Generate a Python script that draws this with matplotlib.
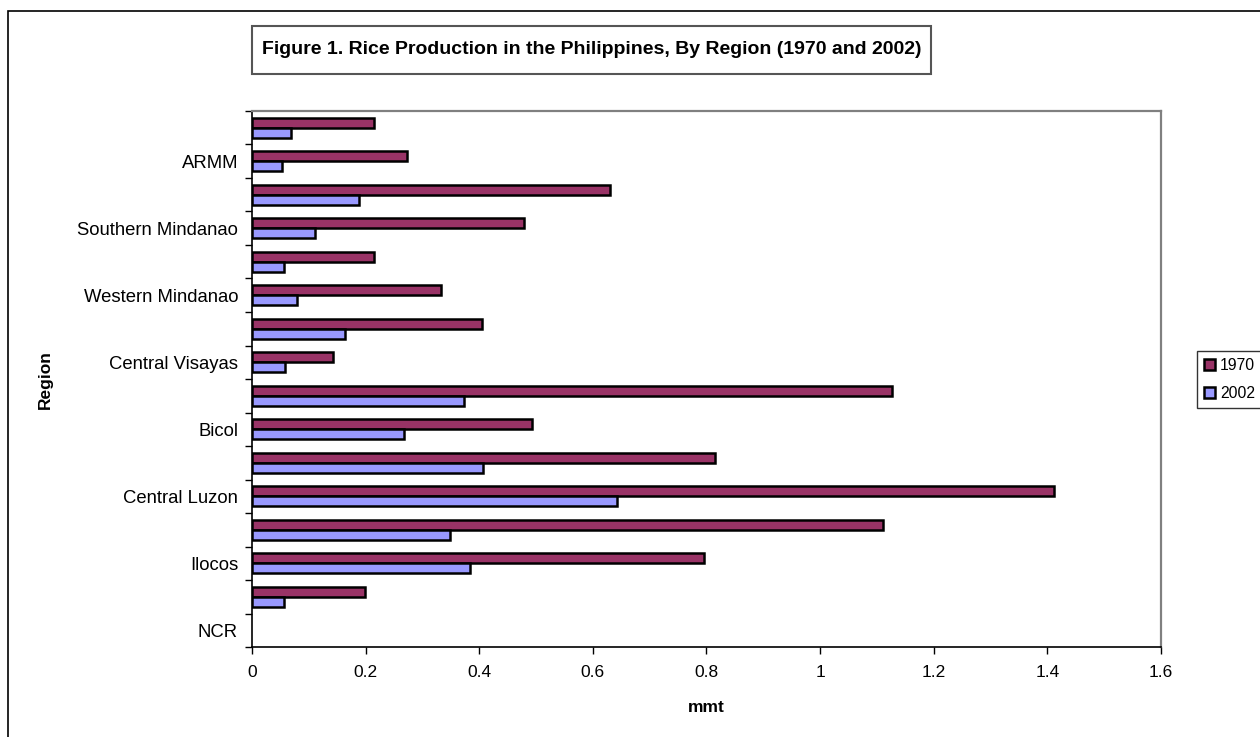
import numpy as np
import matplotlib.pyplot as plt
from matplotlib.patches import Rectangle

plt.rcParams['font.family'] = ['Liberation Sans', 'DejaVu Sans']

# regiões de baixo para cima
regioes = ['NCR', 'CAR', 'Ilocos', 'Cagayan Valley', 'Central Luzon',
           'Southern Tagalog', 'Bicol', 'Western Visayas', 'Central Visayas',
           'Eastern Visayas', 'Western Mindanao', 'Northern Mindanao',
           'Southern Mindanao', 'Central Mindanao', 'ARMM', 'CARAGA']
prod_1970 = [0.0, 0.199, 0.796, 1.111, 1.411, 0.815, 0.493, 1.127, 0.143,
             0.405, 0.332, 0.215, 0.478, 0.631, 0.273, 0.214]
prod_2002 = [0.0, 0.056, 0.384, 0.349, 0.642, 0.406, 0.268, 0.373, 0.058,
             0.164, 0.080, 0.057, 0.111, 0.189, 0.053, 0.069]
xticks = [0, 0.2, 0.4, 0.6, 0.8, 1, 1.2, 1.4, 1.6]

W, H = 1260, 737
fig = plt.figure(figsize=(W/100, H/100), dpi=100)
ax = fig.add_axes([0.2, 0.1221, 0.7214, 0.7273])

y = np.arange(len(regioes))
h = 0.3
# barras nulas sem contorno (NCR)
lw70 = [1.8 if v > 0 else 0 for v in prod_1970]
lw02 = [1.8 if v > 0 else 0 for v in prod_2002]
ax.barh(y + h/2, prod_1970, height=h, color='#993366', edgecolor='black',
        linewidth=lw70, label='1970')
ax.barh(y - h/2, prod_2002, height=h, color='#9999FF', edgecolor='black',
        linewidth=lw02, label='2002')

ax.set_xlim(0, 1.6)
ax.set_ylim(-0.5, len(regioes) - 0.5)
ax.set_xticks(xticks)
ax.set_xticklabels([('%g' % v) for v in xticks], fontsize=12.5)
ax.set_yticks(y[::2])
ax.set_yticklabels(regioes[::2], fontsize=13.3)
ax.set_yticks(np.arange(-0.5, len(regioes)), minor=True)
ax.tick_params(axis='y', which='major', length=0, pad=10)
ax.tick_params(axis='y', which='minor', length=5, width=1, direction='out')
ax.tick_params(axis='x', which='major', length=5, width=1, direction='out', pad=8)

for s in ['left', 'bottom']:
    ax.spines[s].set_color('black')
    ax.spines[s].set_linewidth(1.2)
for s in ['top', 'right']:
    ax.spines[s].set_color('#808080')
    ax.spines[s].set_linewidth(1.6)

ax.set_xlabel('mmt', fontsize=12.5, fontweight='bold', labelpad=14)
fig.text(45/W, 1 - 380/H, 'Region', rotation=90, fontsize=12.5,
         fontweight='bold', ha='center', va='center')

# título com caixa
fig.patches.append(Rectangle((252/W, 1 - 74/H), 679/W, 48/H,
                             transform=fig.transFigure, facecolor='white',
                             edgecolor='#555555', linewidth=1.5))
fig.text(591.5/W, 1 - 50/H, 'Figure 1. Rice Production in the Philippines, By Region (1970 and 2002)',
         fontsize=14, fontweight='bold', ha='center', va='center')

# borda externa da figura
fig.patches.append(Rectangle((8/W, -0.1), 1.2, 1 - 11/H + 0.1,
                             transform=fig.transFigure, fill=False,
                             edgecolor='black', linewidth=1.2))

leg = fig.legend(loc='upper left', bbox_to_anchor=(1197/W, 1 - 351/H),
                 fontsize=11.3, frameon=True, fancybox=False, edgecolor='black',
                 handlelength=0.7, handleheight=0.7, handletextpad=0.3,
                 labelspacing=0.8, borderpad=0.45, borderaxespad=0)
leg.get_frame().set_linewidth(1)
for hnd in leg.legend_handles:
    hnd.set_linewidth(1.8)
    hnd.set_edgecolor('black')

fig.savefig('out.png', dpi=100)
